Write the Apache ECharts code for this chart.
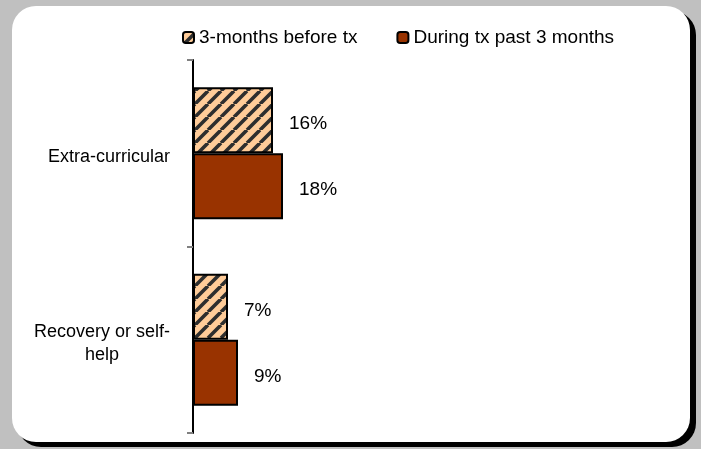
<!DOCTYPE html>
<html>
<head>
<meta charset="utf-8">
<script src="https://cdn.jsdelivr.net/npm/echarts@6/dist/echarts.min.js"></script>
<style>
  html, body { margin: 0; padding: 0; background: #c0c0c0; }
  #chart { width: 701px; height: 449px; }
</style>
</head>
<body>
<div id="chart"></div>
<script>
  // data
  var categories = ['Extra-curricular', 'Recovery or self-\nhelp'];
  var seriesNames = ['3-months before tx', 'During tx past 3 months'];
  var beforeTx = [16, 7];
  var duringTx = [18, 9];

  // hatched fill for the "before" series ( / stripes )
  function makeHatch () {
    var s = 13;
    var c = document.createElement('canvas');
    c.width = s;
    c.height = s;
    var ctx = c.getContext('2d');
    ctx.fillStyle = '#ffcc99';
    ctx.fillRect(0, 0, s, s);
    ctx.strokeStyle = '#2e2e2e';
    ctx.lineWidth = 3.6;
    ctx.beginPath();
    [-1, 0, 1].forEach(function (k) {
      ctx.moveTo(k * s, s);
      ctx.lineTo(k * s + s, 0);
    });
    ctx.stroke();
    return c;
  }

  var chart = echarts.init(document.getElementById('chart'));
  var font = 'Liberation Sans, Arial, sans-serif';

  var labelStyle = {
    show: true,
    position: 'right',
    distance: 16,
    offset: [0, 4],
    formatter: '{c}%',
    fontSize: 19,
    color: '#000',
    fontFamily: font
  };

  var option = {
    animation: false,
    textStyle: { fontFamily: font },
    graphic: [
      { type: 'rect', z: -20, silent: true, shape: { x: 17, y: 11, width: 679, height: 436, r: 24 }, style: { fill: '#000' } },
      { type: 'rect', z: -10, silent: true, shape: { x: 12, y: 6, width: 678, height: 436, r: 24 }, style: { fill: '#fff' } }
    ],
    legend: {
      left: 177,
      top: 23,
      itemWidth: 11,
      itemHeight: 11,
      itemGap: 39,
      textStyle: { fontSize: 19, color: '#000', fontFamily: font },
      data: seriesNames
    },
    grid: {
      left: 193,
      top: 60,
      width: 500,
      height: 373
    },
    xAxis: {
      type: 'value',
      min: 0,
      max: 100,
      show: false
    },
    yAxis: {
      type: 'category',
      inverse: true,
      data: categories,
      axisLine: { show: true, lineStyle: { color: '#000', width: 2 } },
      axisTick: { show: true, inside: false, length: 6, lineStyle: { color: '#808080', width: 2 } },
      axisLabel: {
        margin: 23,
        color: '#000',
        fontSize: 18,
        fontFamily: font,
        lineHeight: 23,
        padding: [8, 0, 0, 0],
        formatter: function (v) {
          if (v.indexOf('\n') < 0) return v;
          return v.split('\n').map(function (l) { return '{c|' + l + '}'; }).join('\n');
        },
        rich: {
          c: { width: 136, align: 'center', fontSize: 18, lineHeight: 23, color: '#000', fontFamily: font }
        }
      }
    },
    series: [
      {
        name: seriesNames[0],
        type: 'bar',
        data: beforeTx,
        barWidth: 66,
        barGap: '0%',
        itemStyle: { color: { image: makeHatch(), repeat: 'repeat' }, borderColor: '#000', borderWidth: 2 },
        label: labelStyle
      },
      {
        name: seriesNames[1],
        type: 'bar',
        data: duringTx,
        barWidth: 66,
        itemStyle: { color: '#993300', borderColor: '#000', borderWidth: 2 },
        label: labelStyle
      }
    ]
  };
  chart.setOption(option);
</script>
</body>
</html>
